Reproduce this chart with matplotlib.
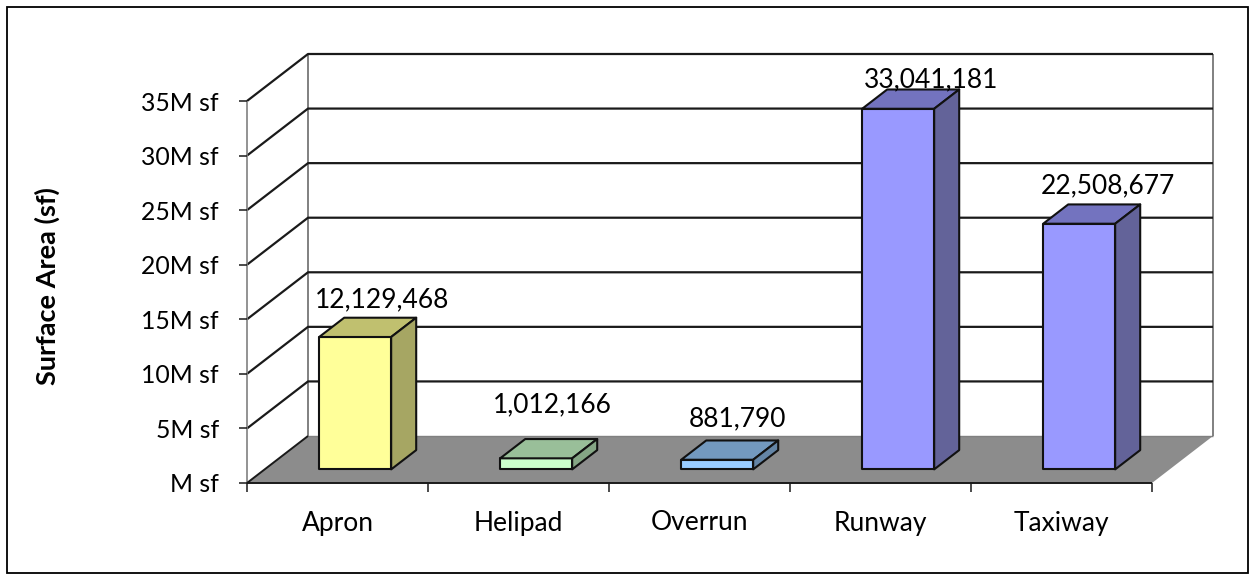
import matplotlib
matplotlib.use("Agg")
import matplotlib.pyplot as plt
from matplotlib.patches import Polygon, Rectangle

plt.rcParams['font.family'] = ['Lato', 'DejaVu Sans']

categories = ["Apron", "Helipad", "Overrun", "Runway", "Taxiway"]
values = [12129468, 1012166, 881790, 33041181, 22508677]
value_labels = ["12,129,468", "1,012,166", "881,790", "33,041,181", "22,508,677"]
front_colors = ["#FFFF99", "#CCFFCC", "#99CCFF", "#9999FF", "#9999FF"]
top_colors = ["#C0C06F", "#99BF99", "#7399BF", "#7373BF", "#7373BF"]
side_colors = ["#A6A663", "#85A685", "#6485A6", "#636399", "#636399"]
ticks = [0, 5e6, 10e6, 15e6, 20e6, 25e6, 30e6, 35e6]
tick_labels = ["M sf", "5M sf", "10M sf", "15M sf", "20M sf", "25M sf", "30M sf", "35M sf"]
# hand-placed label nudges (pixels right, pixels up from the bar's top centre)
label_nudge_x = [14, 3, 8, 20, 16]
label_nudge_y = [27, 44, 31, 19, 28]
ymax = 35e6
W, H = 1255, 574
FS = 19
TFS = 17.8
fig = plt.figure(figsize=(W/100, H/100), dpi=100)
fig.add_artist(Rectangle((7/W, 1-573/H), 1241/W, 566/H, fill=False, ec="black", lw=1.3, transform=fig.transFigure))
ax = fig.add_axes([247/W, 1-483/H, 905/W, 382/H])
ax.set_xlim(0, 5); ax.set_ylim(0, ymax); ax.axis("off")
px = 5/905            # one pixel in x data units
py = ymax/382         # one pixel in y data units
dx_full = 61*px
dy_full = 47*py

def P(x, y, d):
    return (x + d*dx_full, y + d*dy_full)

def poly(pts, **kw):
    ax.add_patch(Polygon(pts, closed=True, clip_on=False, **kw))

def line(pts, color="#1a1a1a", lw=1.4, z=2):
    ax.plot(*zip(*pts), color=color, lw=lw, clip_on=False, zorder=z, solid_capstyle="butt")

# floor
poly([P(0,0,0), P(5,0,0), P(5,0,1), P(0,0,1)], fc="#8C8C8C", ec="none", zorder=1)
# walls / gridlines
line([P(5,0,1), P(5,ymax,1)], color="#808080", lw=1.4)
line([P(0,0,1), P(0,ymax,1)], color="#808080", lw=1.4)
line([P(0,0,1), P(5,0,1)], color="#808080", lw=1.0)
for t in ticks[1:]:
    line([P(0,t,0), P(0,t,1), P(5,t,1)], lw=1.6)
line([P(0,0,0), P(0,ymax,0)], color="#808080", lw=1.2)
line([P(0,0,0), P(0,0,1)], lw=1.4)
line([P(0,0,0), P(5,0,0)], lw=1.4, z=3)
# ticks
for t, lab in zip(ticks, tick_labels):
    line([(0, t), (-8*px, t)], lw=1.1, z=3)
    ax.text(-28*px, t - 2*py, lab, ha="right", va="center", fontsize=TFS, color="black")
for i in range(6):
    line([(i, 0), (i, -9*py)], lw=1.1, z=3)
for i, c in enumerate(categories):
    ax.text(i+0.5, -40*py, c, ha="center", va="center", fontsize=FS, color="black")
ax.text(-200*px, 197*py, "Surface Area (sf)", rotation=90, ha="center", va="center",
        fontsize=19.5, fontweight="bold", color="black")
# bars
bw = 72*px; d0, d1 = 0.29, 0.70
for i, v in enumerate(values):
    x0, x1 = i+0.5-bw/2, i+0.5+bw/2
    kw = dict(ec="#111111", lw=1.5, zorder=5, joinstyle="round")
    poly([P(x0,0,d0), P(x1,0,d0), P(x1,v,d0), P(x0,v,d0)], fc=front_colors[i], **kw)
    poly([P(x0,v,d0), P(x1,v,d0), P(x1,v,d1), P(x0,v,d1)], fc=top_colors[i], **kw)
    poly([P(x1,0,d0), P(x1,0,d1), P(x1,v,d1), P(x1,v,d0)], fc=side_colors[i], **kw)
    lx, ly = P(i+0.5, v, 0.5)
    ax.text(lx + label_nudge_x[i]*px, ly + label_nudge_y[i]*py, value_labels[i], ha="center", va="center",
            fontsize=FS, color="black", zorder=6)
fig.savefig("out.png", dpi=100, facecolor="white")
